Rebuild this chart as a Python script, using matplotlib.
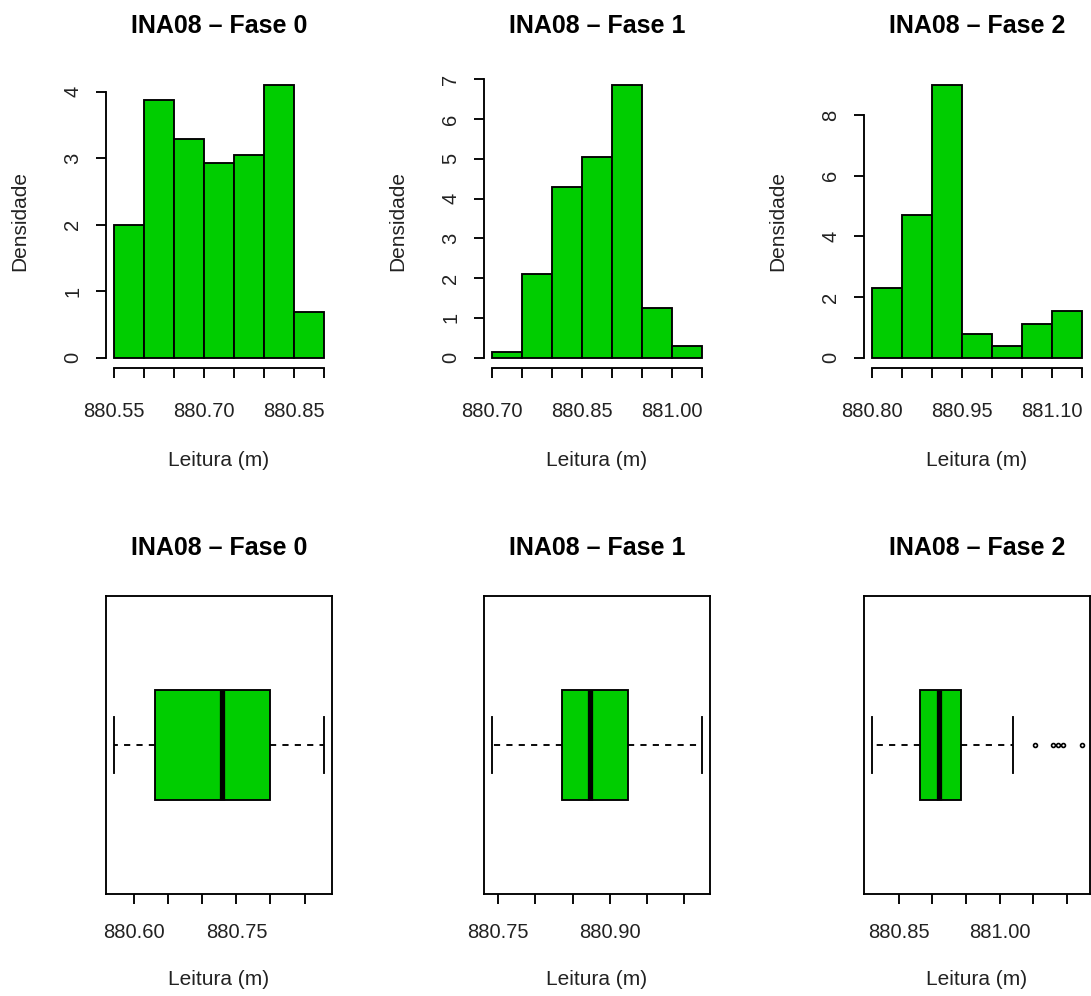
import matplotlib
matplotlib.use("Agg")
import matplotlib.pyplot as plt
import numpy as np

plt.rcParams['font.family'] = ['Liberation Sans', 'DejaVu Sans']

# ---------------- data ----------------
titles = ["INA08 – Fase 0", "INA08 – Fase 1", "INA08 – Fase 2"]
x_label = "Leitura (m)"
y_label = "Densidade"

hist_breaks = [
    [880.55, 880.60, 880.65, 880.70, 880.75, 880.80, 880.85, 880.90],
    [880.70, 880.75, 880.80, 880.85, 880.90, 880.95, 881.00, 881.05],
    [880.80, 880.85, 880.90, 880.95, 881.00, 881.05, 881.10, 881.15],
]
hist_density = [
    [2.00, 3.88, 3.28, 2.92, 3.04, 4.10, 0.69],
    [0.14, 2.11, 4.28, 5.04, 6.86, 1.26, 0.30],
    [2.31, 4.69, 9.00, 0.78, 0.385, 1.12, 1.53],
]
hist_xtick_labels = [
    ["880.55", "", "", "880.70", "", "", "880.85", ""],
    ["880.70", "", "", "880.85", "", "", "881.00", ""],
    ["880.80", "", "", "880.95", "", "", "881.10", ""],
]
hist_yticks = [
    [0, 1, 2, 3, 4],
    [0, 1, 2, 3, 4, 5, 6, 7],
    [0, 2, 4, 6, 8],
]

box_whislo = [880.571, 880.742, 880.811]
box_q1 = [880.630, 880.836, 880.882]
box_med = [880.729, 880.874, 880.9095]
box_q3 = [880.800, 880.925, 880.942]
box_whishi = [880.878, 881.024, 881.020]
box_fliers = [[], [], [881.053, 881.080, 881.087, 881.095, 881.122]]
box_xticks = [
    [880.60, 880.65, 880.70, 880.75, 880.80, 880.85],
    [880.75, 880.80, 880.85, 880.90, 880.95, 881.00],
    [880.85, 880.90, 880.95, 881.00, 881.05, 881.10],
]
box_xtick_labels = [
    ["880.60", "", "", "880.75", "", ""],
    ["880.75", "", "", "880.90", "", ""],
    ["880.85", "", "", "881.00", "", ""],
]

# ---------------- style ----------------
GREEN = "#00CD00"
LW = 1.35
W, H = 1091, 996
fig = plt.figure(figsize=(W / 100, H / 100), dpi=100)
fig.patch.set_facecolor("white")

col_left = [106, 484, 864]
col_w = 226
top_row = (74, 368.5)
bot_row = (596, 894)


def make_ax(left, top, bottom):
    return fig.add_axes([left / W, 1 - bottom / H, col_w / W, (bottom - top) / H])


for i in range(3):
    # ---------- histogram ----------
    ax = make_ax(col_left[i], *top_row)
    br = np.array(hist_breaks[i])
    dens = np.array(hist_density[i])
    ax.bar(br[:-1], dens, width=np.diff(br), align="edge",
           color=GREEN, edgecolor="black", linewidth=LW)
    pad = 0.04 * (br[-1] - br[0])
    ax.set_xlim(br[0] - pad, br[-1] + pad)
    ymax = dens.max()
    ax.set_ylim(-0.04 * ymax, 1.04 * ymax)
    for s in ("top", "right"):
        ax.spines[s].set_visible(False)
    for s in ("left", "bottom"):
        ax.spines[s].set_linewidth(LW)
    ax.spines["left"].set_bounds(hist_yticks[i][0], hist_yticks[i][-1])
    ax.spines["bottom"].set_bounds(br[0], br[-1])
    ax.set_xticks(br, hist_xtick_labels[i])
    ax.set_yticks(hist_yticks[i], [str(v) for v in hist_yticks[i]],
                  rotation=90, va="center")
    ax.tick_params(axis="x", direction="out", length=7.2, width=LW,
                   labelsize=14.5, pad=17.0, colors="black", labelcolor="#222222")
    ax.tick_params(axis="y", direction="out", length=7.2, width=LW,
                   labelsize=14.5, pad=9.8, colors="black", labelcolor="#222222")
    ax.set_title(titles[i], fontsize=18, fontweight="bold", pad=29.7)
    ax.set_xlabel(x_label, fontsize=15, color="#222222")
    ax.xaxis.set_label_coords(0.5, -0.280)
    ax.set_ylabel(y_label, fontsize=15, color="#222222")
    ax.yaxis.set_label_coords(-0.34, 0.5)

    # ---------- boxplot ----------
    ax = make_ax(col_left[i], *bot_row)
    stats = [dict(whislo=box_whislo[i], q1=box_q1[i], med=box_med[i],
                  q3=box_q3[i], whishi=box_whishi[i],
                  fliers=box_fliers[i])]
    kw = dict(positions=[1], widths=0.4, capwidths=0.2, patch_artist=True,
              boxprops=dict(facecolor=GREEN, edgecolor="black", linewidth=LW),
              whiskerprops=dict(color="black", linestyle=(0, (3.3, 3.3)), linewidth=LW),
              capprops=dict(color="black", linewidth=LW),
              medianprops=dict(color="black", linewidth=3.8, solid_capstyle="butt"),
              flierprops=dict(marker="o", markersize=2.8, markerfacecolor="none",
                              markeredgecolor="black", markeredgewidth=1.2,
                              linestyle="none"))
    try:
        ax.bxp(stats, orientation="horizontal", **kw)
    except TypeError:
        ax.bxp(stats, vert=False, **kw)
    vals = [box_whislo[i], box_whishi[i]] + list(box_fliers[i])
    lo, hi = min(vals), max(vals)
    pad = 0.04 * (hi - lo)
    ax.set_xlim(lo - pad, hi + pad)
    ax.set_ylim(0.46, 1.54)
    ax.set_yticks([])
    for s in ax.spines.values():
        s.set_linewidth(LW)
    ax.set_xticks(box_xticks[i], box_xtick_labels[i])
    ax.tick_params(axis="x", direction="out", length=7.2, width=LW,
                   labelsize=14.5, pad=13.9, colors="black", labelcolor="#222222")
    ax.set_title(titles[i], fontsize=18, fontweight="bold", pad=29.7)
    ax.set_xlabel(x_label, fontsize=15, color="#222222")
    ax.xaxis.set_label_coords(0.5, -0.255)

fig.savefig("out.png", dpi=100, facecolor="white")
